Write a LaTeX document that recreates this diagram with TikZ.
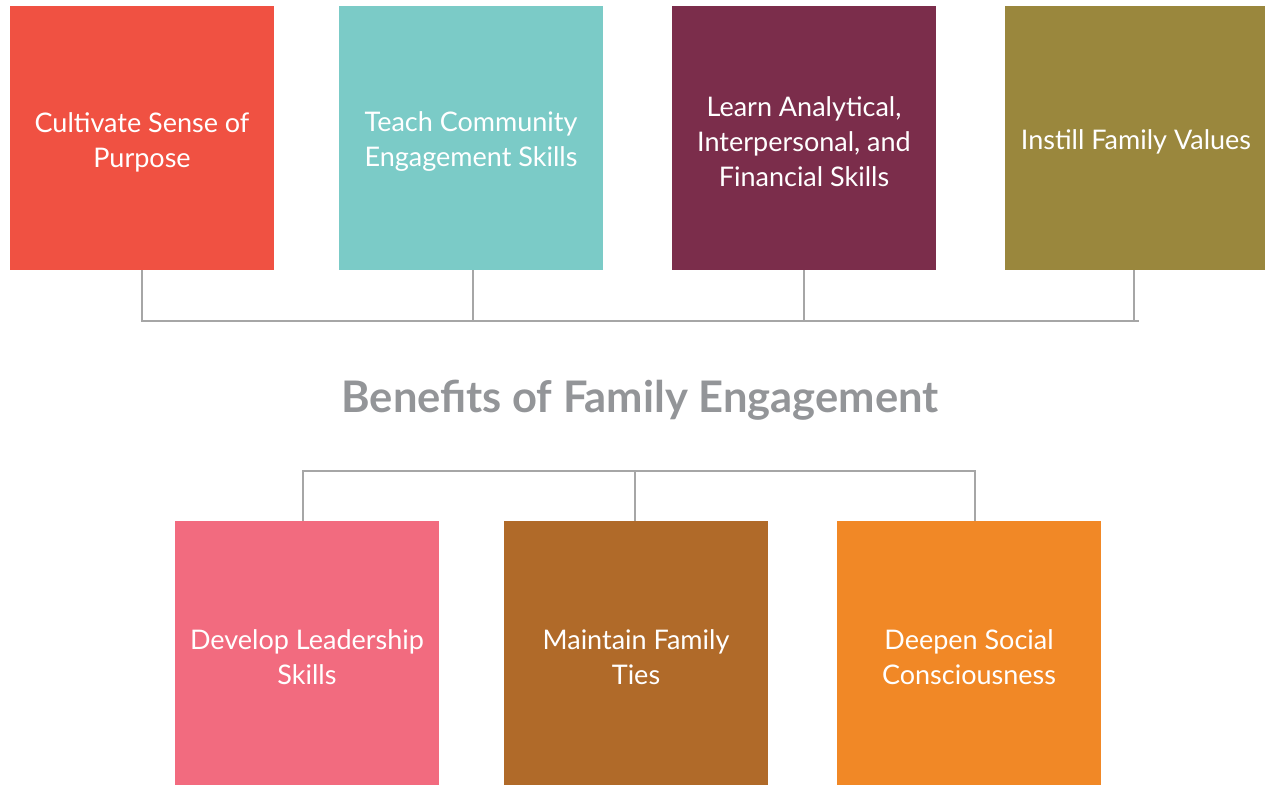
\documentclass[tikz,border=0pt]{standalone}
\usepackage{fontspec}
\setmainfont{Lato}
\definecolor{cred}{HTML}{F05142}
\definecolor{cteal}{HTML}{7BCBC7}
\definecolor{cwine}{HTML}{7B2D4B}
\definecolor{colive}{HTML}{9A873D}
\definecolor{cpink}{HTML}{F26B7F}
\definecolor{cbrown}{HTML}{B06A29}
\definecolor{corange}{HTML}{F18826}
\definecolor{cline}{HTML}{A6A6A6}
\definecolor{ctitle}{HTML}{939598}
\begin{document}
\begin{tikzpicture}[x=1pt,y=-1pt,
    box/.style={minimum width=264pt,minimum height=264pt,inner sep=0pt},
    boxtext/.style={text=white,align=center,inner sep=0pt,
      font=\fontsize{27}{35}\selectfont,yshift=-4pt},
    bus/.style={draw=cline,line width=1.5pt}]
  \clip (0,0) rectangle (1265,784);
  \useasboundingbox (0,0) rectangle (1265,784);
  % top row
  \node[box,fill=cred]    (purpose)   at (142,138) {};
  \node[box,fill=cteal]   (community) at (471,138) {};
  \node[box,fill=cwine]   (skills)    at (804,138) {};
  \node[box,fill=colive]  (values)    at (1137,138) {};
  \node[boxtext] (purpose-t)   at (purpose)   {Cultivate Sense of\\Purpose};
  \node[boxtext] (community-t) at (community) {Teach Community\\Engagement Skills};
  \node[boxtext] (skills-t)    at (skills)    {Learn Analytical,\\Interpersonal, and\\Financial Skills};
  \node[boxtext] (values-t)    at ([xshift=-1pt]values) {Instill Family Values};
  % title
  \node[text=ctitle,font=\fontsize{43.5}{50}\selectfont\bfseries] (title) at (640,400)
    {Benefits of Family Engagement};
  % bottom row
  \node[box,fill=cpink]   (leader)    at (307,653) {};
  \node[box,fill=cbrown]  (ties)      at (636,653) {};
  \node[box,fill=corange] (social)    at (969,653) {};
  \node[boxtext] (leader-t) at (leader) {Develop Leadership\\Skills};
  \node[boxtext] (ties-t)   at (ties)   {Maintain Family\\Ties};
  \node[boxtext] (social-t) at (social) {Deepen Social\\Consciousness};
  % connectors
  \coordinate (topbus) at (0,321);
  \coordinate (lowbus) at (0,471);
  \begin{scope}[bus]
    \draw (purpose.south) |- (topbus -| values.south) -- ++(2,0);
    \draw ([xshift=2pt]community.south) -- ([xshift=2pt]community.south |- topbus);
    \draw (skills.south) -- (skills.south |- topbus);
    \draw ([xshift=-3pt]values.south) -- ([xshift=-3pt]values.south |- topbus);
    \draw ([xshift=-4pt]leader.north) |- ([xshift=6pt]lowbus -| social.north) -- ([xshift=6pt]social.north);
    \draw ([xshift=-1pt]ties.north) -- ([xshift=-1pt]ties.north |- lowbus);
  \end{scope}
\end{tikzpicture}
\end{document}
